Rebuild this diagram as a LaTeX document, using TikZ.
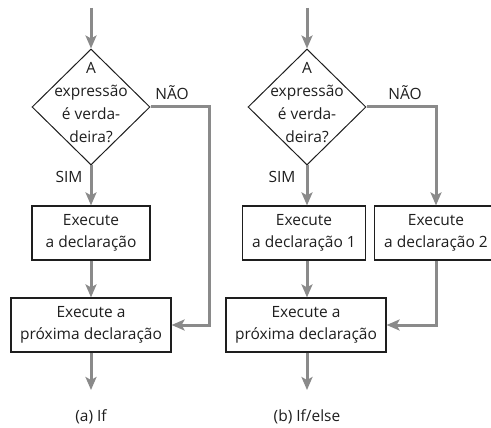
\documentclass[tikz,border=0pt]{standalone}
\usepackage{fontspec}
\setmainfont{Open Sans}
\usetikzlibrary{shapes.geometric,arrows.meta}

\definecolor{flowgray}{RGB}{138,138,138}
\definecolor{ink}{RGB}{30,30,30}

\begin{document}
\begin{tikzpicture}[x=1pt, y=-1pt, font=\fontsize{15.5}{22}\selectfont, text=ink,
    flow/.style={draw=flowgray, line width=3pt, -{Stealth[length=13pt, width=11pt, inset=3pt]}},
    decision/.style={diamond, draw=ink, line width=1pt, minimum width=118pt, minimum height=116pt, inner sep=0pt},
    cond/.style={align=center, inner sep=0pt, font=\fontsize{15.5}{23}\selectfont},
    stepbox/.style={draw=ink, line width=1.2pt, minimum height=54pt, inner sep=0pt, align=center}]

    \useasboundingbox (0,0) rectangle (491,428);
    \clip (0,0) rectangle (491,428);

% (a) if
    \coordinate (inA) at (91,8);
    \node[decision] at (91,107) (testA) {};
    \node[cond] at (91,103) (askA) {A\\expressão\\é verda-\\deira?};
    \node at (172,93) (noA) {NÃO};
    \node at (69,177) (yesA) {SIM};
    \node[stepbox, minimum width=118pt] at (91,233) (doA) {Execute\\a declaração};
    \node[stepbox, minimum width=160pt] at (91,325) (nextA) {Execute a\\próxima declaração};
    \coordinate (turnA) at (209,325);
    \coordinate (outA) at (91,390);
    \node at (91,417) (capA) {(a) If};

    \draw[flow] (inA) -- (testA.north);
    \draw[flow] (testA.south) -- (doA.north);
    \draw[flow] (doA.south) -- (nextA.north);
    \draw[flow] (testA.east) -| (turnA) -- (nextA.east);
    \draw[flow] (nextA.south) -- (outA);

% (b) if/else
    \coordinate (inB) at (307,8);
    \node[decision] at (307,107) (testB) {};
    \node[cond] at (307,103) (askB) {A\\expressão\\é verda-\\deira?};
    \node at (405,93) (noB) {NÃO};
    \node at (282,177) (yesB) {SIM};
    \node[stepbox, minimum width=123pt] at (304,233) (doB1) {Execute\\a declaração 1};
    \node[stepbox, minimum width=123pt] at (436,233) (doB2) {Execute\\a declaração 2};
    \node[stepbox, minimum width=160pt] at (306,325) (nextB) {Execute a\\próxima declaração};
    \coordinate (outB) at (307,390);
    \node at (307,417) (capB) {(b) If/else};

    \draw[flow] (inB) -- (testB.north);
    \draw[flow] (testB.south) -- (testB.south |- doB1.north);
    \draw[flow] (testB.east) -| (doB2.north);
    \draw[flow] (testB.south |- doB1.south) -- (testB.south |- nextB.north);
    \draw[flow] (doB2.south) |- (nextB.east);
    \draw[flow] (testB.south |- nextB.south) -- (outB);

\end{tikzpicture}
\end{document}
